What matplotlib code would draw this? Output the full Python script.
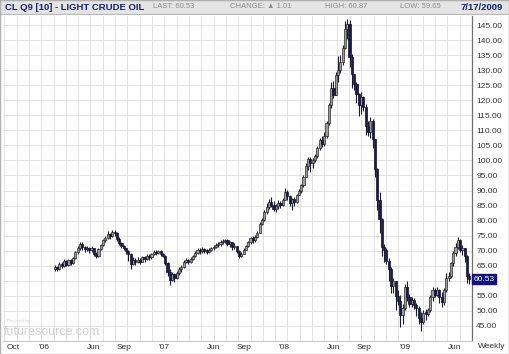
import numpy as np
import pandas as pd
import matplotlib
matplotlib.use('Agg')
import matplotlib.pyplot as plt
import matplotlib.dates as mdates
from matplotlib.patches import Rectangle

plt.rcParams['font.family'] = ['Liberation Sans', 'DejaVu Sans']

# weekly bars, Feb 2006 .. 17 Jul 2009 (one row per month)
close = [
    64.5, 63.8, 65.6, 65.0,
    66.5, 65.4, 66.8, 65.8, 67.5,
    69.5, 71.0, 72.3, 71.2,
    70.6, 70.9, 70.2, 70.8,
    69.0, 68.3, 70.5, 71.8, 73.6,
    74.2, 75.6, 74.8, 76.3,
    75.8, 73.9, 72.6, 71.5,
    70.8, 69.8, 69.0, 65.6, 66.9,
    66.2, 67.0, 66.4, 67.8,
    67.3, 68.4, 67.8, 68.9,
    69.6, 69.3, 69.9, 69.0, 68.4,
    65.8, 63.0, 60.2, 62.4,
    61.0, 62.5, 63.8, 64.5,
    66.3, 66.8, 66.2, 67.2, 68.2,
    69.3, 70.2, 69.8, 70.6,
    70.0, 69.7, 70.3, 70.9,
    71.4, 71.9, 72.3, 72.9, 73.3,
    73.5, 72.2, 72.8, 71.1,
    71.5, 70.0, 68.3, 69.0, 70.4,
    71.5, 72.8, 74.2, 73.5,
    74.6, 76.0, 78.9, 80.3,
    82.8, 84.5, 86.2, 85.3, 83.9,
    84.8, 85.9, 85.2, 86.9,
    89.4, 88.2, 85.9, 87.1,
    86.2, 88.6, 89.9, 91.8, 94.6,
    98.3, 100.5, 99.0, 100.2,
    101.5, 104.0, 106.8, 105.6,
    108.2, 112.3, 118.5, 124.2, 121.8,
    128.5, 130.2, 132.8, 137.5,
    143.6, 145.2, 134.4, 128.6,
    125.4, 122.1, 118.3, 121.0, 117.6,
    111.4, 109.6, 113.1, 107.2,
    97.3, 86.9, 80.5, 71.4, 70.2,
    66.5, 64.0, 58.2, 59.9,
    55.0, 53.4, 48.6, 50.9,
    57.8, 54.6, 52.4, 53.6, 52.0,
    51.0, 47.8, 46.3, 49.4,
    49.1, 50.4, 54.6, 56.8,
    55.3, 56.9, 54.5, 52.8,
    56.8, 60.9, 61.6, 65.8, 69.2,
    71.3, 73.6, 70.4, 71.0,
    68.3, 61.7, 60.53,
]
high = [
    65.2, 65.0, 66.2, 66.4,
    67.2, 66.9, 67.4, 67.2, 68.0,
    69.9, 71.5, 73.0, 72.8,
    71.5, 71.6, 71.2, 71.5,
    71.0, 69.6, 70.9, 72.3, 74.0,
    75.0, 76.4, 76.0, 76.9,
    77.0, 76.2, 74.5, 73.0,
    71.8, 71.0, 70.2, 69.2, 67.8,
    67.5, 68.0, 67.7, 68.4,
    68.3, 68.9, 68.9, 69.4,
    70.2, 70.3, 70.4, 70.3, 69.4,
    68.6, 66.2, 63.8, 62.9,
    62.6, 63.4, 64.5, 65.1,
    66.9, 67.6, 67.4, 67.8, 68.7,
    69.8, 70.8, 70.9, 71.1,
    71.0, 70.5, 70.8, 71.3,
    71.8, 72.4, 72.8, 73.4, 73.8,
    73.9, 73.8, 73.2, 72.9,
    72.6, 71.7, 70.2, 69.5, 70.8,
    71.9, 73.2, 74.6, 74.9,
    75.2, 76.4, 79.4, 81.0,
    83.6, 86.0, 87.3, 87.8, 86.4,
    85.4, 86.7, 86.6, 87.5,
    90.8, 90.1, 88.6, 87.6,
    88.0, 89.0, 90.6, 92.2, 95.2,
    99.0, 101.2, 101.0, 100.8,
    102.0, 104.7, 107.4, 108.0,
    109.3, 113.0, 119.2, 126.0, 126.4,
    129.5, 134.8, 135.0, 138.3,
    146.2, 147.0, 146.8, 135.5,
    127.8, 126.2, 122.5, 122.7, 121.4,
    118.7, 113.0, 114.4, 113.8,
    107.0, 97.4, 89.6, 80.9, 72.3,
    70.8, 67.6, 64.6, 61.0,
    60.0, 56.8, 55.2, 52.2,
    58.8, 60.0, 55.6, 54.6, 54.2,
    52.6, 51.6, 49.8, 50.3,
    50.8, 51.0, 55.4, 58.0,
    57.6, 58.0, 57.2, 56.2,
    57.5, 62.6, 62.9, 66.4, 69.8,
    72.4, 74.4, 73.8, 71.9,
    71.0, 68.6, 62.6,
]
low = [
    63.3, 63.2, 63.6, 64.3,
    64.6, 64.8, 65.0, 65.2, 65.5,
    67.3, 69.0, 70.4, 70.3,
    69.5, 69.8, 69.2, 69.6,
    68.2, 67.6, 68.0, 70.1, 71.5,
    73.0, 73.8, 73.9, 74.6,
    74.8, 73.2, 72.0, 70.9,
    70.2, 69.0, 66.5, 64.0, 65.3,
    65.4, 65.8, 65.6, 66.2,
    66.4, 67.0, 66.9, 67.4,
    68.6, 68.5, 69.0, 68.3, 67.9,
    65.2, 61.6, 58.6, 59.8,
    59.6, 60.6, 62.0, 63.0,
    64.2, 65.8, 65.7, 65.9, 66.8,
    68.0, 68.9, 69.0, 69.2,
    69.3, 69.0, 69.2, 69.8,
    70.2, 70.8, 71.2, 71.7, 72.1,
    72.7, 71.6, 71.4, 70.2,
    70.5, 69.4, 67.6, 67.8, 68.9,
    70.2, 71.2, 72.3, 72.6,
    72.9, 74.1, 75.8, 78.4,
    80.0, 82.1, 84.0, 84.6, 83.2,
    83.0, 84.0, 84.3, 85.0,
    86.7, 86.9, 84.8, 83.5,
    84.8, 85.9, 88.4, 89.3, 91.3,
    94.6, 96.8, 96.2, 97.5,
    99.6, 100.9, 103.6, 104.4,
    104.9, 107.5, 111.8, 117.5, 120.6,
    122.0, 126.2, 129.2, 131.8,
    136.9, 140.3, 131.2, 124.2,
    123.3, 119.2, 114.8, 115.6, 116.4,
    108.6, 108.1, 107.4, 104.2,
    94.6, 83.4, 76.0, 68.2, 66.1,
    65.7, 59.8, 56.1, 55.9,
    50.2, 51.8, 44.7, 45.8,
    50.2, 53.2, 51.2, 51.4, 50.8,
    48.4, 45.7, 43.2, 45.5,
    47.0, 48.3, 49.8, 53.2,
    54.6, 54.9, 52.6, 51.2,
    51.8, 56.3, 59.8, 61.0, 64.8,
    68.2, 70.6, 69.5, 68.6,
    66.2, 59.4, 59.0,
]
first_open = 64.0

label_dates = ['2005-10-01', '2006-01-01', '2006-06-01', '2006-09-01', '2007-01-01',
               '2007-06-01', '2007-09-01', '2008-01-01', '2008-06-01', '2008-09-01',
               '2009-01-01', '2009-06-01']
label_text = ['Oct', "'06", 'Jun', 'Sep', "'07", 'Jun', 'Sep', "'08", 'Jun', 'Sep', "'09", 'Jun']
price_ticks = np.arange(45, 150, 5)

last, change, day_high, day_low = 60.53, 1.01, 60.87, 59.65

W, H = 509, 354
def fx(px):
    return px / W
def fy(py):
    return 1 - py / H

fig = plt.figure(figsize=(W / 100, H / 100), dpi=100)
ax = fig.add_axes([fx(3), fy(341), fx(469), (341 - 16) / H])

dates = pd.date_range(end='2009-07-17', periods=len(close), freq='W-FRI')
x = mdates.date2num(dates)
c = np.array(close)
o = np.concatenate([[first_open], c[:-1]])
hi = np.maximum(np.array(high), np.maximum(o, c))
lo = np.minimum(np.array(low), np.minimum(o, c))
up = c >= o

ax.vlines(x, lo, hi, color='#1a1a2a', lw=0.8, zorder=3)
body_b = np.minimum(o, c)
body_h = np.maximum(np.abs(c - o), 0.4)
ax.bar(x[up], body_h[up], bottom=body_b[up], width=6.5, color='#9c9c9c',
       edgecolor='#2a2a2a', linewidth=0.5, zorder=4)
ax.bar(x[~up], body_h[~up], bottom=body_b[~up], width=6.5, color='#1c1c4a',
       edgecolor='#101030', linewidth=0.5, zorder=4)

x0 = mdates.date2num(pd.Timestamp('2005-08-30'))
x1 = mdates.date2num(pd.Timestamp('2009-07-25'))
ax.set_xlim(x0, x1)
ax.set_ylim(40, 148)

# grid
for gx in np.arange(x0 + 4, x1, 37.4):
    ax.axvline(gx, color='#dcdcdc', lw=0.6, zorder=0)
for gy in price_ticks:
    ax.axhline(gy, color='#dcdcdc', lw=0.6, zorder=0)

ax.yaxis.tick_right()
ax.set_yticks(price_ticks)
# the 60.00 label sits under the last-price box
ax.set_yticklabels(['' if abs(v - last) < 2.5 else '%.2f' % v for v in price_ticks])
ax.tick_params(axis='y', length=0, pad=3, labelsize=6, labelcolor='#333333')
ax.set_xticks(mdates.date2num(pd.to_datetime(label_dates)))
ax.set_xticklabels(label_text)
ax.tick_params(axis='x', length=0, pad=2, labelsize=6, labelcolor='#333333')

for s in ['top', 'left']:
    ax.spines[s].set_visible(False)
ax.spines['right'].set_color('#707070')
ax.spines['right'].set_linewidth(0.9)
ax.spines['bottom'].set_color('#c8c8c8')
ax.spines['bottom'].set_linewidth(0.8)

ax.text(1.003, last, '%.2f' % last, transform=ax.get_yaxis_transform(),
        fontsize=6, color='white', va='center', ha='left', zorder=10, clip_on=False,
        bbox=dict(boxstyle='square,pad=0.15', fc='#12127a', ec='#12127a'))

fig.text(fx(478), fy(347), 'Weekly', fontsize=6, color='#333333', va='center')

# watermark
fig.text(fx(7), fy(321), 'Powered by', fontsize=3.2, color='#d4d4d4', va='center')
fig.text(fx(4), fy(332), 'futuresource.com', fontsize=9, color='#d0d0d0', va='center')

# header bar
fig.patches.append(Rectangle((0, fy(14)), 1, 14 / H, transform=fig.transFigure,
                             fc='#e4e4e4', ec='#b8b8b8', lw=0.8, zorder=0))
fig.text(fx(5), fy(7), 'CL Q9 [10] - LIGHT CRUDE OIL', fontsize=6.8, fontweight='bold',
         color='#17216a', va='center')
fig.text(fx(153), fy(7), 'LAST: %.2f' % last, fontsize=5.5, color='#8a8a8a', va='center')
fig.text(fx(230), fy(7), 'CHANGE: \u25b2 %.2f' % change, fontsize=5.5, color='#8a8a8a', va='center')
fig.text(fx(325), fy(7), 'HIGH: %.2f' % day_high, fontsize=5.5, color='#8a8a8a', va='center')
fig.text(fx(400), fy(7), 'LOW: %.2f' % day_low, fontsize=5.5, color='#8a8a8a', va='center')
fig.text(fx(503), fy(7), '7/17/2009', fontsize=6.8, fontweight='bold', color='#17216a',
         va='center', ha='right')

fig.patches.append(Rectangle((0, 0), 1, 1, transform=fig.transFigure, fill=False,
                             ec='#b0b0b0', lw=1.0, zorder=10))

fig.savefig('out.png', dpi=100)
